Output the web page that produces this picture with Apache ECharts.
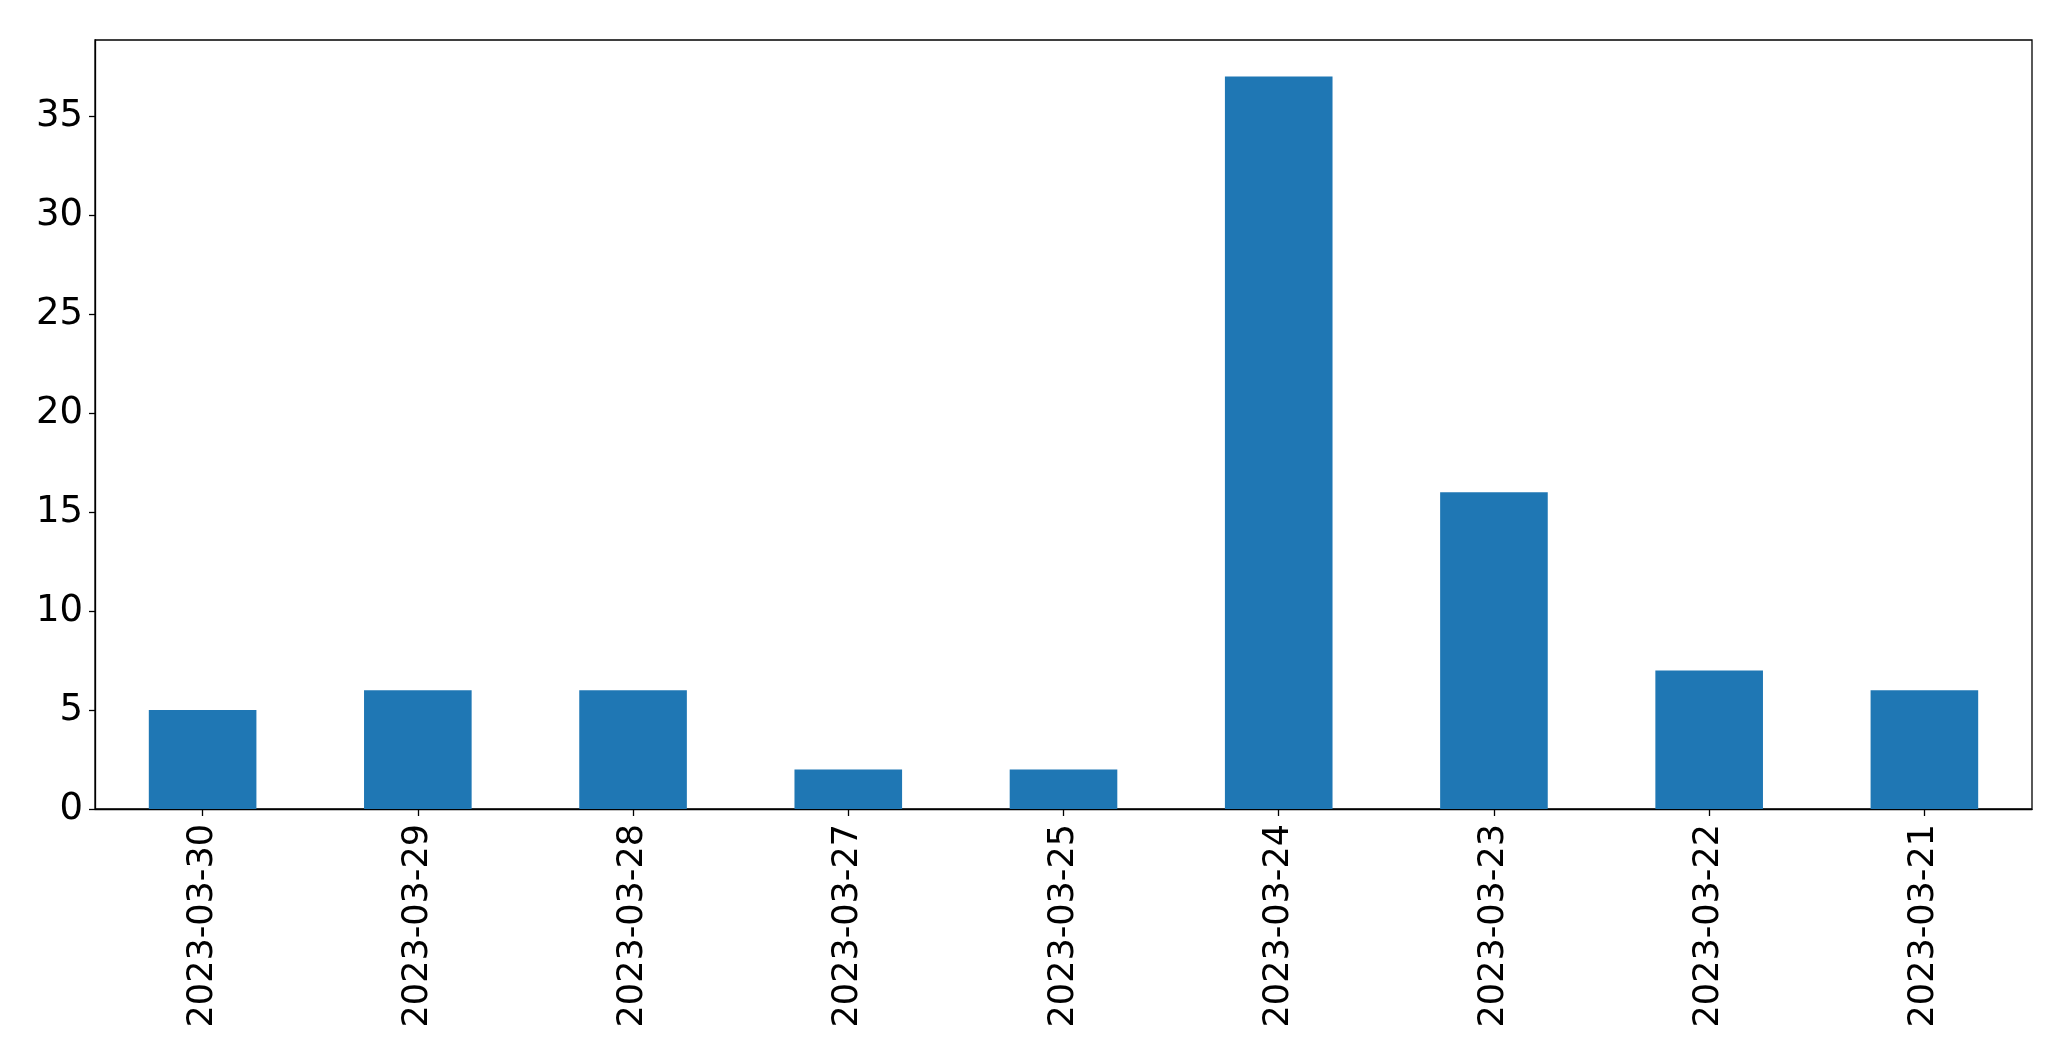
<!DOCTYPE html>
<html><head><meta charset="utf-8">
<script src="https://cdn.jsdelivr.net/npm/echarts@6/dist/echarts.min.js"></script>
<style>html,body{margin:0;padding:0;background:#fff}#c{width:2071px;height:1061px}</style>
</head><body><div id="c"></div>
<script>
const categories = ['2023-03-30','2023-03-29','2023-03-28','2023-03-27','2023-03-25','2023-03-24','2023-03-23','2023-03-22','2023-03-21'];
const values = [5, 6, 6, 2, 2, 37, 16, 7, 6];
const yTicks = [0, 5, 10, 15, 20, 25, 30, 35];

const chart = echarts.init(document.getElementById('c'), null, {renderer: 'canvas'});
chart.setOption({
  animation: false,
  grid: {left: 95, right: 39, top: 40, bottom: 252, show: true, borderColor: '#000', borderWidth: 1.3, backgroundColor: 'transparent'},
  xAxis: {
    type: 'category', data: categories,
    axisLine: {show: true, lineStyle: {color: '#000', width: 1.3}},
    axisTick: {show: true, alignWithLabel: true, length: 7, lineStyle: {color: '#000', width: 1.3}},
    axisLabel: {rotate: 90, margin: 15, color: '#000', fontSize: 35, fontFamily: 'DejaVu Sans'}
  },
  yAxis: {
    type: 'value', min: 0, max: 38.85, interval: 5,
    splitLine: {show: false},
    axisLine: {show: true, lineStyle: {color: '#000', width: 1.3}},
    axisTick: {show: true, length: 6, lineStyle: {color: '#000', width: 1.3}},
    axisLabel: {margin: 12, color: '#000', fontSize: 37, fontFamily: 'DejaVu Sans',
      showMaxLabel: false,
      formatter: v => yTicks.includes(v) ? String(v) : ''}
  },
  series: [{type: 'bar', data: values, barWidth: '50%', itemStyle: {color: '#1f77b4'}}]
});
</script></body></html>
